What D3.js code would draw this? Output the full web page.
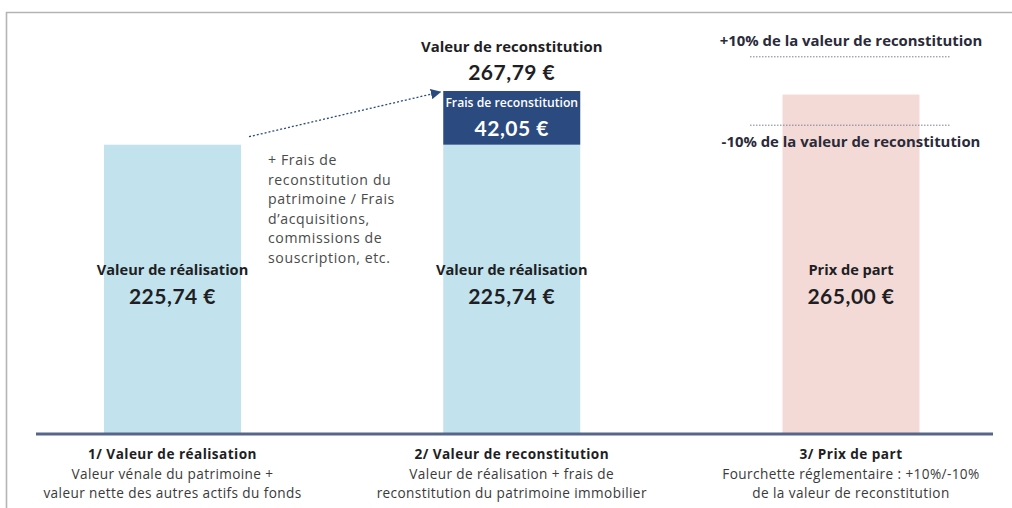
<!DOCTYPE html>
<html><head><meta charset="utf-8">
<script src="https://cdn.jsdelivr.net/npm/d3@7"></script>
<style>
body{margin:0;background:#fff;}
svg{display:block;font-family:"Open Sans",Lato,sans-serif;}
.num{font-family:Lato,"Open Sans",sans-serif;}
</style></head>
<body><svg id="c" width="1012" height="508"></svg>
<script>
const categories = ["1/ Valeur de réalisation","2/ Valeur de reconstitution","3/ Prix de part"];
const subtitles = [
  ["Valeur vénale du patrimoine +","valeur nette des autres actifs du fonds"],
  ["Valeur de réalisation + frais de","reconstitution du patrimoine immobilier"],
  ["Fourchette réglementaire : +10%/-10%","de la valeur de reconstitution"]
];
const baseValues = [225.74, 225.74, 265.00];
const baseLabels = ["Valeur de réalisation","Valeur de réalisation","Prix de part"];
const baseValueText = ["225,74 €","225,74 €","265,00 €"];
const feeValues = [0, 42.05, 0];
const feeLabel = "Frais de reconstitution";
const feeValueText = "42,05 €";
const totalLabel = "Valeur de reconstitution";
const totalValueText = "267,79 €";
const reconstitution = 267.79;
const bandPct = [0.10, -0.10];
const bandLabels = ["+10% de la valeur de reconstitution","-10% de la valeur de reconstitution"];
const noteLines = ["+ Frais de","reconstitution du","patrimoine / Frais","d’acquisitions,","commissions de","souscription, etc."];

const svg = d3.select("#c");
svg.append("path").attr("d","M6.5,508 V12.5 H1012").attr("fill","none").attr("stroke","#b4b4b4").attr("stroke-width",1.6);

const xs = d3.scalePoint().domain(categories).range([172.5,851]);
const bw = 137;
const y = d3.scaleLinear().domain([0, reconstitution]).range([433, 91]);

const colors = ["#c2e3ed","#c2e3ed","#f3dad6"];
const dark = "#2b4a80";
const ink = "#1e1e24";

categories.forEach((c,i)=>{
  const cx = xs(c);
  svg.append("rect").attr("x",cx-bw/2).attr("width",bw)
    .attr("y",y(baseValues[i])).attr("height",y(0)-y(baseValues[i])).attr("fill",colors[i]);
  if(feeValues[i]>0){
    const top = y(baseValues[i]+feeValues[i]);
    svg.append("rect").attr("x",cx-bw/2).attr("width",bw)
      .attr("y",top).attr("height",y(baseValues[i])-top).attr("fill",dark);
    svg.append("text").attr("x",cx).attr("y",top+16).attr("text-anchor","middle").attr("fill","#fff")
      .attr("font-size",12.2).attr("font-weight",600).text(feeLabel);
    svg.append("text").attr("class","num").attr("x",cx).attr("y",top+45).attr("text-anchor","middle").attr("fill","#fff")
      .attr("font-size",21).attr("font-weight",700).attr("letter-spacing",0.5).text(feeValueText);
    svg.append("text").attr("x",cx).attr("y",top-39).attr("text-anchor","middle").attr("fill",ink)
      .attr("font-size",14.9).attr("font-weight",700).text(totalLabel);
    svg.append("text").attr("class","num").attr("x",cx).attr("y",top-11).attr("text-anchor","middle").attr("fill",ink)
      .attr("font-size",21).attr("font-weight",700).attr("letter-spacing",0.5).text(totalValueText);
  }
  svg.append("text").attr("x",cx).attr("y",275).attr("text-anchor","middle").attr("fill",ink)
    .attr("font-size",14.6).attr("font-weight",700).text(baseLabels[i]);
  svg.append("text").attr("class","num").attr("x",cx).attr("y",304).attr("text-anchor","middle").attr("fill",ink)
    .attr("font-size",21).attr("font-weight",700).attr("letter-spacing",0.5).text(baseValueText[i]);

  svg.append("text").attr("x",cx).attr("y",459).attr("text-anchor","middle").attr("fill",ink)
    .attr("font-size",13.6).attr("font-weight",700).attr("letter-spacing",0.45).text(c);
  subtitles[i].forEach((s,j)=>{
    svg.append("text").attr("x",cx).attr("y",478.5+j*19).attr("text-anchor","middle").attr("fill","#3a3a3a")
      .attr("font-size",13.6).attr("letter-spacing",0.4).text(s);
  });
});

svg.append("line").attr("x1",36).attr("x2",993).attr("y1",y(0)+1).attr("y2",y(0)+1)
  .attr("stroke","#56668a").attr("stroke-width",3);

const c3 = xs(categories[2]);
bandPct.forEach((p,k)=>{
  const yy = y(reconstitution*(1+p));
  svg.append("line").attr("x1",750).attr("x2",950).attr("y1",yy).attr("y2",yy)
    .attr("stroke","#7a7f95").attr("stroke-width",1).attr("stroke-dasharray","1.5,1.5");
  svg.append("text").attr("x",c3).attr("y", k===0 ? yy-11 : yy+22).attr("text-anchor","middle")
    .attr("fill","#2a2a3a").attr("font-size",14.9).attr("font-weight",700).text(bandLabels[k]);
});

const defs = svg.append("defs");
defs.append("marker").attr("id","ah").attr("viewBox","0 0 10 10").attr("refX",9).attr("refY",5)
  .attr("markerWidth",8).attr("markerHeight",8).attr("orient","auto")
  .append("path").attr("d","M0,0 L10,5 L0,10 z").attr("fill","#2b4a80");
const x1 = xs(categories[0])+bw/2+8, x2 = xs(categories[1])-bw/2-3;
svg.append("line").attr("x1",x1).attr("y1",y(baseValues[0])-8).attr("x2",x2).attr("y2",y(reconstitution)+1)
  .attr("stroke","#2b4a80").attr("stroke-width",1.3).attr("stroke-dasharray","2,2").attr("marker-end","url(#ah)");

noteLines.forEach((t,j)=>{
  svg.append("text").attr("x",268).attr("y",165+j*19.5).attr("fill","#4a4a4a").attr("font-size",14.1)
    .attr("letter-spacing",0.6).text(t);
});
</script></body></html>
